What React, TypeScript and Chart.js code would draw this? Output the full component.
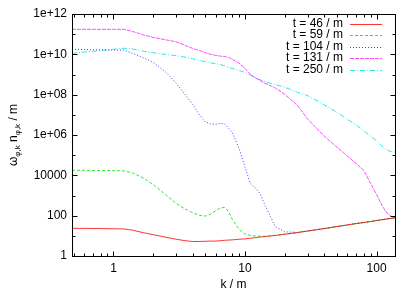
import React, { useEffect, useRef } from "react";
import { Chart, registerables } from "chart.js";

Chart.register(...registerables);

const FONT = '"Liberation Sans", Arial, Helvetica, sans-serif';

// wavenumber grid k / m
const kValues = [0.484, 0.6, 0.8, 1.0, 1.2, 1.4, 1.7, 2.0, 2.5, 3.0, 3.5, 4, 4.5, 5, 5.5, 6, 6.5, 7, 7.5, 8, 9, 10, 11, 12, 13, 14, 15, 17, 20, 25, 30, 40, 50, 60, 70, 80, 90, 100, 110, 120, 130, 138];

// log10 of omega*n
const t46Log = [1.37, 1.37, 1.36, 1.35, 1.34, 1.28, 1.15, 1.06, 0.93, 0.83, 0.76, 0.72, 0.72, 0.73, 0.74, 0.74, 0.76, 0.78, 0.79, 0.80, 0.83, 0.85, 0.88, 0.91, 0.94, 0.96, 0.98, 1.02, 1.08, 1.16, 1.24, 1.36, 1.46, 1.54, 1.61, 1.66, 1.71, 1.76, 1.80, 1.84, 1.87, 1.90];
const t59Log = [4.25, 4.25, 4.24, 4.23, 4.22, 4.12, 3.85, 3.55, 3.03, 2.61, 2.33, 2.15, 2.02, 1.98, 2.08, 2.25, 2.38, 2.41, 2.2, 1.82, 1.32, 1.09, 1.02, 0.99, 0.98, 0.98, 0.99, 1.02, 1.08, 1.16, 1.24, 1.36, 1.46, 1.54, 1.61, 1.66, 1.71, 1.76, 1.80, 1.84, 1.87, 1.90];
const t104Log = [10.25, 10.24, 10.22, 10.21, 10.21, 10.05, 9.82, 9.6, 9.12, 8.56, 8.02, 7.52, 7.0, 6.65, 6.55, 6.53, 6.58, 6.55, 6.33, 6.12, 5.35, 4.4, 3.58, 3.38, 3.1, 2.6, 2.2, 1.45, 1.2, 1.17, 1.24, 1.36, 1.46, 1.54, 1.61, 1.66, 1.71, 1.76, 1.80, 1.84, 1.87, 1.90];
const t131Log = [11.24, 11.24, 11.24, 11.24, 11.24, 11.13, 10.96, 10.84, 10.72, 10.62, 10.45, 10.29, 10.19, 10.08, 10.0, 9.95, 9.91, 9.89, 9.85, 9.75, 9.57, 9.3, 9.0, 8.83, 8.7, 8.58, 8.5, 8.33, 8.02, 7.47, 6.78, 5.94, 5.4, 4.95, 4.58, 4.24, 3.6, 3.05, 2.5, 2.12, 1.96, 1.9];
const t250Log = [10.05, 10.11, 10.19, 10.25, 10.3, 10.27, 10.15, 10.08, 9.99, 9.93, 9.86, 9.78, 9.7, 9.64, 9.58, 9.53, 9.49, 9.43, 9.36, 9.3, 9.2, 9.1, 8.97, 8.84, 8.74, 8.66, 8.6, 8.5, 8.37, 8.12, 7.95, 7.5, 7.12, 6.78, 6.5, 6.2, 5.95, 5.7, 5.45, 5.25, 5.17, 5.15];

const seriesLabels = ["t = 46 / m", "t = 59 / m", "t = 104 / m", "t = 131 / m", "t = 250 / m"];

const xTickValues = [0.5, 0.6, 0.7, 0.8, 0.9, 1, 2, 3, 4, 5, 6, 7, 8, 9, 10, 20, 30, 40, 50, 60, 70, 80, 90, 100];
const xMajorValues = [1, 10, 100];
const xMajorLabels = ["1", "10", "100"];

const yTickValues = [1, 1e1, 1e2, 1e3, 1e4, 1e5, 1e6, 1e7, 1e8, 1e9, 1e10, 1e11, 1e12];
const yMajorValues = [1, 1e2, 1e4, 1e6, 1e8, 1e10, 1e12];
const yMajorLabels = ["1", "100", "10000", "1e+06", "1e+08", "1e+10", "1e+12"];

const styles = [
  { color: "rgba(255,0,0,0.8)", dash: [] as number[] },
  { color: "rgba(0,235,0,0.85)", dash: [3, 2] },
  { color: "rgba(0,0,255,0.75)", dash: [1, 2] },
  { color: "rgba(255,0,255,0.7)", dash: [4, 1] },
  { color: "rgba(0,230,230,0.85)", dash: [5, 2, 1, 2] },
];

const isMajor = (arr: number[], v: number) => arr.some((m) => Math.abs(m - v) / m < 1e-6);

const framePlugin = {
  id: "gnuFrame",
  afterDatasetsDraw(chart: any) {
    const { ctx, chartArea: a, scales } = chart;
    const L = Math.round(a.left) + 0.5;
    const R = Math.round(a.right) + 0.5;
    const T = Math.round(a.top) + 0.5;
    const B = Math.round(a.bottom) + 0.5;
    ctx.save();
    ctx.strokeStyle = "#000";
    ctx.lineWidth = 1;
    ctx.setLineDash([]);
    ctx.beginPath();
    const xs = scales.x;
    xs.ticks.forEach((t: any) => {
      const px = Math.round(xs.getPixelForValue(t.value)) + 0.5;
      const len = isMajor(xMajorValues, t.value) ? 5 : 3;
      ctx.moveTo(px, B);
      ctx.lineTo(px, B - len);
      ctx.moveTo(px, T);
      ctx.lineTo(px, T + len);
    });
    const ys = scales.y;
    ys.ticks.forEach((t: any) => {
      const py = Math.round(ys.getPixelForValue(t.value)) + 0.5;
      const len = isMajor(yMajorValues, t.value) ? 5 : 3;
      ctx.moveTo(L, py);
      ctx.lineTo(L + len, py);
      ctx.moveTo(R, py);
      ctx.lineTo(R - len, py);
    });
    ctx.stroke();
    ctx.strokeRect(L, T, R - L, B - T);
    ctx.restore();
  },
  afterDraw(chart: any) {
    const { ctx, chartArea: a } = chart;
    ctx.save();
    // legend
    ctx.font = `12px ${FONT}`;
    ctx.textAlign = "right";
    ctx.textBaseline = "middle";
    chart.data.datasets.forEach((ds: any, i: number) => {
      const yy = a.top + 9.5 + i * 11.5;
      ctx.fillStyle = "#000";
      ctx.fillText(ds.label, a.right - 52, yy);
      ctx.strokeStyle = ds.borderColor;
      ctx.lineWidth = 1;
      ctx.setLineDash(ds.borderDash || []);
      ctx.beginPath();
      ctx.moveTo(a.right - 45, Math.round(yy) + 0.5);
      ctx.lineTo(a.right - 13, Math.round(yy) + 0.5);
      ctx.stroke();
    });
    ctx.setLineDash([]);
    // x title
    ctx.fillStyle = "#000";
    ctx.textAlign = "center";
    ctx.textBaseline = "middle";
    ctx.font = `12px ${FONT}`;
    ctx.fillText("k / m", (a.left + a.right) / 2, a.bottom + 29);
    // y title with subscripts
    ctx.translate(13, (a.top + a.bottom) / 2);
    ctx.rotate(-Math.PI / 2);
    const parts = [
      { t: "ω", s: 12, dy: 0 },
      { t: "φ,k", s: 8, dy: 3 },
      { t: " n", s: 12, dy: 0 },
      { t: "φ,k", s: 8, dy: 3 },
      { t: " / m", s: 12, dy: 0 },
    ];
    let total = 0;
    const widths = parts.map((p) => {
      ctx.font = `${p.s}px ${FONT}`;
      const w = ctx.measureText(p.t).width;
      total += w;
      return w;
    });
    let cx = -total / 2;
    ctx.textAlign = "left";
    ctx.textBaseline = "alphabetic";
    parts.forEach((p, i) => {
      ctx.font = `${p.s}px ${FONT}`;
      ctx.fillText(p.t, cx, 4 + p.dy);
      cx += widths[i];
    });
    ctx.restore();
  },
};

export default function App() {
  const ref = useRef<HTMLCanvasElement | null>(null);
  useEffect(() => {
    if (!ref.current) return;
    const logs = [t46Log, t59Log, t104Log, t131Log, t250Log];
    const chart = new Chart(ref.current, {
      type: "line",
      data: {
        datasets: logs.map((arr, i) => ({
          label: seriesLabels[i],
          data: arr.map((v, j) => ({ x: kValues[j], y: Math.pow(10, v) })),
          borderColor: styles[i].color,
          borderDash: styles[i].dash,
          borderWidth: 1,
          pointRadius: 0,
          tension: 0,
          fill: false,
        })),
      },
      options: {
        animation: false,
        responsive: true,
        maintainAspectRatio: false,
        layout: { padding: { top: 14, right: 20, left: 0, bottom: 0 } },
        plugins: { legend: { display: false }, tooltip: { enabled: false } },
        scales: {
          x: {
            type: "logarithmic",
            min: 0.484,
            max: 138,
            grid: { display: false, drawTicks: false },
            border: { display: false },
            afterBuildTicks: (scale: any) => {
              scale.ticks = xTickValues.map((v) => ({ value: v }));
            },
            afterFit: (scale: any) => {
              scale.height = 35;
            },
            ticks: {
              autoSkip: false,
              maxRotation: 0,
              padding: 5,
              color: "#000",
              font: { family: FONT, size: 12 },
              callback: (value: any) => {
                const idx = xMajorValues.findIndex((m) => Math.abs(m - Number(value)) / m < 1e-6);
                return idx >= 0 ? xMajorLabels[idx] : "";
              },
            },
          },
          y: {
            type: "logarithmic",
            min: 1,
            max: 1e12,
            grid: { display: false, drawTicks: false },
            border: { display: false },
            afterBuildTicks: (scale: any) => {
              scale.ticks = yTickValues.map((v) => ({ value: v }));
            },
            afterFit: (scale: any) => {
              scale.width = 72;
            },
            ticks: {
              autoSkip: false,
              padding: 5,
              color: "#000",
              font: { family: FONT, size: 12 },
              callback: (value: any) => {
                const idx = yMajorValues.findIndex((m) => Math.abs(m - Number(value)) / m < 1e-6);
                return idx >= 0 ? yMajorLabels[idx] : "";
              },
            },
          },
        },
      },
      plugins: [framePlugin],
    });
    return () => chart.destroy();
  }, []);
  return (
    <div style={{ position: "fixed", left: 0, top: 0, width: 415, height: 291, background: "#fff" }}>
      <canvas ref={ref} />
    </div>
  );
}
